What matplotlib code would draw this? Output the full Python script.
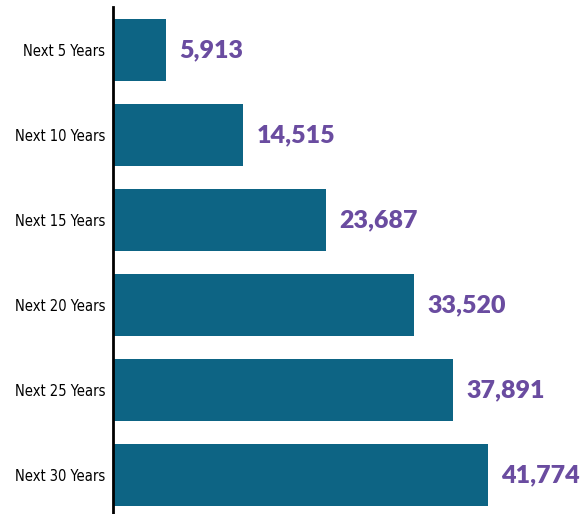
import matplotlib
matplotlib.use("Agg")
import matplotlib.pyplot as plt

# data
periods = ["Next 5 Years", "Next 10 Years", "Next 15 Years",
           "Next 20 Years", "Next 25 Years", "Next 30 Years"]
counts = [5913, 14515, 23687, 33520, 37891, 41774]

bar_color = "#0d6484"
label_color = "#6a4ca0"

fig = plt.figure(figsize=(5.84, 5.14), dpi=100)
ax = fig.add_axes([113 / 584, 0, 471 / 584, 507 / 514])

pos = list(range(len(periods)))
ax.barh(pos, counts, height=0.73, color=bar_color)

for y, v in zip(pos, counts):
    ax.annotate(f"{v:,}", xy=(v, y), xytext=(9.5, 0), textcoords="offset points",
                va="center", ha="left", color=label_color,
                fontsize=18, fontweight="heavy", family=["Lato", "DejaVu Sans"])

ax.set_yticks(pos)
ax.set_yticklabels(periods, family=["DejaVu Sans"], fontstretch="condensed", fontsize=10.5)
ax.tick_params(axis="y", length=0, pad=5.5)
ax.set_xticks([])
ax.set_xlim(0, 52470)
ax.set_ylim(5.46, -0.504)

for s in ["top", "right", "bottom"]:
    ax.spines[s].set_visible(False)
ax.spines["left"].set_linewidth(2)
ax.spines["left"].set_color("black")

fig.savefig("out.png", dpi=100)
